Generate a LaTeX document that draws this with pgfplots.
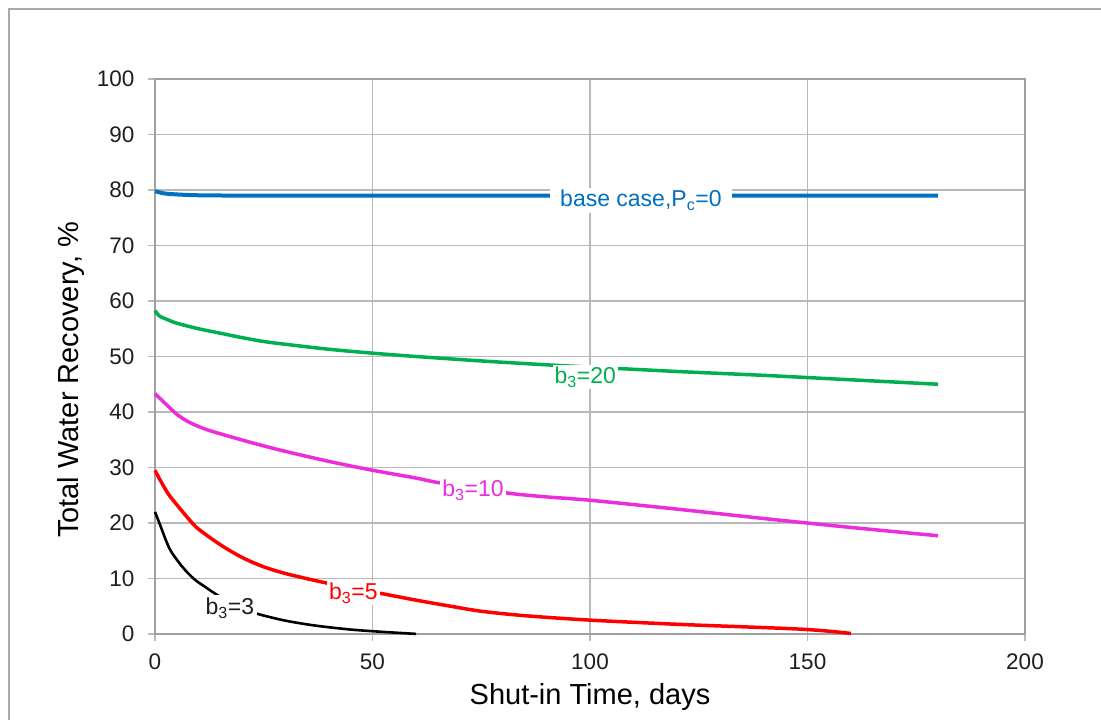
\documentclass[border=0pt]{standalone}
\usepackage{fontspec}
\setmainfont{Liberation Sans}
\usepackage{pgfplots}
\pgfplotsset{compat=1.18}
\definecolor{cblue}{RGB}{0,112,192}
\definecolor{cgreen}{RGB}{0,176,80}
\definecolor{cmag}{RGB}{235,45,220}
\definecolor{cred}{RGB}{255,0,0}
\definecolor{gridgray}{RGB}{185,185,185}
\definecolor{axgray}{RGB}{160,160,160}
\definecolor{framegray}{RGB}{170,170,170}
\definecolor{ticktext}{RGB}{30,30,30}
\begin{document}
\begin{tikzpicture}[x=1pt,y=1pt]
\useasboundingbox (-155,-86) rectangle (946,634);
\draw[color=framegray, line width=1.8pt] (-146,-90) -- (-146,625) -- (950,625);
\begin{axis}[
  at={(0,0)}, anchor=south west,
  scale only axis, width=870pt, height=555pt,
  xmin=0, xmax=200, ymin=0, ymax=100,
  xtick={0,50,...,200}, ytick={0,10,...,100},
  grid=major,
  major grid style={line width=1.3pt, color=gridgray},
  axis line style={line width=1.6pt, color=axgray},
  tick style={line width=1.3pt, color=gridgray},
  tick align=outside, major tick length=7pt,
  tick pos=left,
  ticklabel style={font=\fontsize{22.5}{26}\selectfont, text=ticktext},
  yticklabel style={xshift=-10pt},
  xticklabel style={yshift=-9pt},
  /pgf/number format/assume math mode=true,
  label style={font=\fontsize{29}{33}\selectfont, text=black},
  xlabel={Shut-in Time, days},
  ylabel={Total Water Recovery, \%},
  xlabel style={at={(axis description cs:0.5,-0.1135)}, anchor=center},
  ylabel style={at={(axis description cs:-0.096,0.4577)}, anchor=center},
  clip=false,
]
% base case
\addplot[color=cblue, line width=4pt, smooth, tension=0.5] coordinates {
(0,79.8) (2,79.4) (5,79.2) (10,79.05) (20,79) (60,79) (120,79) (180,79)
};
% b3=20
\addplot[color=cgreen, line width=3.5pt, smooth, tension=0.5] coordinates {
(0,58.3) (1,57.3) (3,56.6) (5,56) (10,55) (15,54.2) (20,53.4) (25,52.7) (30,52.2) (40,51.3) (50,50.6) (60,50) (75,49.2) (90,48.5) (100,48.1) (120,47.3) (140,46.6) (160,45.8) (180,45.0)
};
% b3=10
\addplot[color=cmag, line width=3.5pt, smooth, tension=0.5] coordinates {
(0,43.3) (2,41.8) (5,39.6) (8,38.1) (12,36.8) (18,35.4) (24,34.1) (30,32.9) (40,31.1) (50,29.5) (60,28.1) (65,27.3) (75,26.2) (82,25.3) (90,24.7) (100,24.1) (120,22.5) (140,20.8) (160,19.2) (180,17.7)
};
% b3=5
\addplot[color=cred, line width=3.5pt, smooth, tension=0.5] coordinates {
(0,29.5) (1,28) (3,25.3) (5,23.3) (8,20.5) (10,18.9) (15,16.1) (20,13.8) (25,12.1) (30,10.9) (37,9.6) (45,8.3) (52,7.3) (60,6.1) (68,5.0) (75,4.1) (85,3.3) (100,2.5) (120,1.75) (135,1.3) (145,1.0) (150,0.8) (155,0.5) (160,0.1)
};
% b3=3
\addplot[color=black, line width=2.6pt, smooth, tension=0.5] coordinates {
(0,22) (1,20) (3.4,15.3) (6.4,12) (9,9.9) (11.5,8.5) (15,6.7) (20,4.7) (23.7,3.6) (30,2.4) (37,1.5) (45,0.8) (52,0.4) (60,0.02)
};
\node[fill=white, text=cblue, inner xsep=10pt, inner ysep=2pt, font=\fontsize{23}{27}\selectfont] at (axis cs:111.7,78.1) {base case,P\textsubscript{c}=0};
\node[fill=white, text=cgreen, inner xsep=2pt, inner ysep=2pt, font=\fontsize{23}{27}\selectfont] at (axis cs:98.9,46.3) {b\textsubscript{3}=20};
\node[fill=white, text=cmag, inner xsep=2pt, inner ysep=2pt, font=\fontsize{23}{27}\selectfont] at (axis cs:73.1,25.9) {b\textsubscript{3}=10};
\node[fill=white, text=cred, inner xsep=2pt, inner ysep=2pt, font=\fontsize{23}{27}\selectfont] at (axis cs:45.6,7.4) {b\textsubscript{3}=5};
\node[fill=white, text=ticktext, inner xsep=3pt, inner ysep=3pt, font=\fontsize{23}{27}\selectfont] at (axis cs:17.2,4.6) {b\textsubscript{3}=3};
\end{axis}
\end{tikzpicture}
\end{document}
